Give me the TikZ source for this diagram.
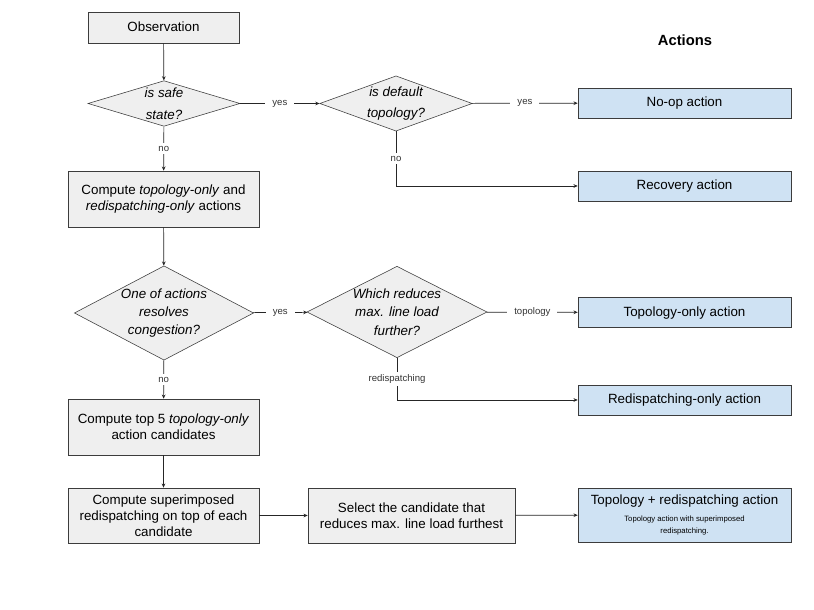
\documentclass[tikz,border=0pt]{standalone}
\usepackage{fontspec}
\setsansfont{Liberation Sans}
\usepackage{xcolor}
\definecolor{StepGray}{HTML}{EFEFEF}
\definecolor{ActionBlue}{HTML}{CFE2F3}
\definecolor{EdgeDark}{HTML}{3C3C3C}
\definecolor{LabelText}{HTML}{333333}
\usetikzlibrary{shapes.geometric, arrows.meta, positioning}

\begin{document}
\begin{tikzpicture}[
  % === GRUNDSTILE ===
  % Rechenschritt
  stepbox/.style={
    draw=EdgeDark,
    fill=StepGray,
    minimum width=#1,
    minimum height=1.4cm,
    inner sep=1pt,
    align=center,
    font=\sffamily\fontsize{9.5}{11.5}\selectfont
  },
  stepbox/.default=4.775cm,
  % Entscheidung
  decision/.style={
    draw=EdgeDark,
    fill=StepGray,
    shape=diamond,
    aspect=#1,
    inner sep=0pt,
    align=center,
    font=\sffamily\itshape\fontsize{9.5}{13}\selectfont
  },
  decision/.default=2.76,
  % Ergebnis-Aktion
  actionbox/.style={
    draw=EdgeDark,
    fill=ActionBlue,
    minimum width=5.325cm,
    minimum height=0.75cm,
    align=center,
    font=\sffamily\fontsize{9.5}{11.5}\selectfont
  },
  % einzeilig: Text optisch mittig
  oneline/.style={
    text height=1.5ex,
    text depth=0.2ex
  },
  % Labels an Pfeilen
  lbl/.style={
    font=\sffamily\fontsize{6.8}{8}\selectfont,
    color=LabelText,
    fill=white,
    inner xsep=5pt,
    inner ysep=2pt
  },
  % Pfeile
  flow/.style={
    draw=black!85,
    line width=0.5pt,
    -{Stealth[length=3pt,width=2.6pt]}
  }
]

% =============================================================================
% HINTERGRUND
% =============================================================================
\fill[white] (0,0) rectangle (20.35,15.25);
\useasboundingbox (0,0) rectangle (20.35,15.25);

% =============================================================================
% TITEL
% =============================================================================
\node[font=\sffamily\bfseries\fontsize{10.5}{12}\selectfont] (title) at (17.125,14.25) {Actions};

% =============================================================================
% LINKE SPALTE
% =============================================================================
\node[stepbox=3.775cm, minimum height=0.775cm, oneline] (obs) at (4.0875,14.5625) {Observation};
\node[decision, minimum width=3.8cm, font=\sffamily\itshape\fontsize{9.5}{15.5}\selectfont]
      (safe) at (4.1,12.6625) {is safe\\state?};
\node[stepbox] (comp) at (4.0875,10.275)
      {Compute \textit{topology-only} and\\\textit{redispatching-only} actions};
\node[decision=1.9, minimum width=4.45cm] (resolve) at (4.1,7.425)
      {One of actions\\resolves\\congestion?};
\node[stepbox] (top) at (4.0875,4.575)
      {Compute top 5 \textit{topology-only}\\action candidates};
\node[stepbox, minimum height=1.375cm] (superimp) at (4.0875,2.3625)
      {Compute superimposed\\redispatching on top of each\\candidate};

% =============================================================================
% MITTLERE SPALTE
% =============================================================================
\node[decision, minimum width=3.8cm, font=\sffamily\itshape\fontsize{9.5}{15.5}\selectfont]
      (default) at (9.9,12.6625) {is default\\topology?};
\node[decision=1.96, minimum width=4.5cm] (which) at (9.925,7.45)
      {Which reduces\\max. line load\\further?};
\node[stepbox=5.175cm, minimum height=1.375cm] (select) at (10.2875,2.3625)
      {Select the candidate that\\reduces max. line load furthest};

% =============================================================================
% RECHTE SPALTE – Aktionen
% =============================================================================
\node[actionbox, oneline] (noop) at (17.1125,12.675) {No-op action};
\node[actionbox, oneline] (recov) at (17.1125,10.6) {Recovery action};
\node[actionbox, oneline] (topo) at (17.1125,7.4375) {Topology-only action};
\node[actionbox, oneline] (redisp) at (17.1125,5.25) {Redispatching-only action};
\node[actionbox, minimum height=1.35cm] (combo) at (17.1125,2.375)
      {Topology + redispatching action\\[0pt]
       {\fontsize{5.5}{6.5}\selectfont Topology action with superimposed}\\[-3pt]
       {\fontsize{5.5}{6.5}\selectfont redispatching.}};

% =============================================================================
% VERBINDUNGEN
% =============================================================================
\draw[flow] (obs) -- (safe);
\draw[flow] (safe) -- node[lbl] {no} (comp);
\draw[flow] (safe) -- node[lbl] {yes} (default);
\draw[flow] (default) -- node[lbl] {yes} (noop);
\draw[flow] (default.south) |- node[lbl, pos=0.25] {no} (recov.west);
\draw[flow] (comp) -- (resolve);
\draw[flow] (resolve) -- node[lbl] {no} (top);
\draw[flow] (resolve) -- node[lbl] {yes} (which);
\draw[flow] (which) -- node[lbl] {topology} (topo);
\draw[flow] (which.south) |- node[lbl, pos=0.25] {redispatching} (redisp.west);
\draw[flow] (top) -- (superimp);
\draw[flow] (superimp) -- (select);
\draw[flow] (select) -- (combo);

\end{tikzpicture}
\end{document}
